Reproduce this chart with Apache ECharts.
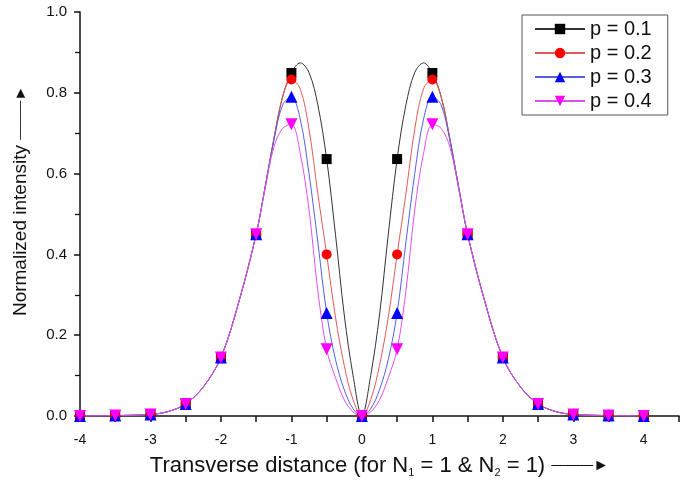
<!DOCTYPE html>
<html>
<head>
<meta charset="utf-8">
<script src="https://cdn.jsdelivr.net/npm/echarts@6/dist/echarts.min.js"></script>
<style>
  html, body { margin: 0; padding: 0; background: #fff; }
  #chart { width: 685px; height: 483px; }
</style>
</head>
<body>
<div id="chart"></div>
<script>
// transverse distance samples (markers sit on the 0.5 steps)
var xs = [-4, -3.5, -3, -2.75, -2.5, -2.25, -2, -1.75, -1.5, -1.375, -1.25, -1.125, -1,
          -0.875, -0.75, -0.625, -0.5, -0.375, -0.25, -0.125, 0, 0.125, 0.25, 0.375, 0.5,
          0.625, 0.75, 0.875, 1, 1.125, 1.25, 1.375, 1.5, 1.75, 2, 2.25, 2.5, 2.75, 3, 3.5, 4];

var p01 = [0, 0.001, 0.004, 0.011, 0.03, 0.072, 0.145, 0.28, 0.45, 0.565, 0.685, 0.79, 0.849,
           0.874, 0.85, 0.77, 0.636, 0.45, 0.25, 0.10, 0, 0.10, 0.25, 0.45, 0.636,
           0.77, 0.85, 0.874, 0.849, 0.79, 0.685, 0.565, 0.45, 0.28, 0.145, 0.072, 0.03, 0.011, 0.004, 0.001, 0];
var p02 = [0, 0.001, 0.004, 0.011, 0.03, 0.072, 0.145, 0.28, 0.45, 0.565, 0.685, 0.79, 0.833,
           0.81, 0.71, 0.55, 0.40, 0.245, 0.125, 0.04, 0, 0.04, 0.125, 0.245, 0.40,
           0.55, 0.71, 0.81, 0.833, 0.79, 0.685, 0.565, 0.45, 0.28, 0.145, 0.072, 0.03, 0.011, 0.004, 0.001, 0];
var p03 = [0, 0.001, 0.004, 0.011, 0.03, 0.072, 0.145, 0.28, 0.45, 0.565, 0.68, 0.77, 0.79,
           0.735, 0.60, 0.43, 0.255, 0.14, 0.065, 0.018, 0, 0.018, 0.065, 0.14, 0.255,
           0.43, 0.60, 0.735, 0.79, 0.77, 0.68, 0.565, 0.45, 0.28, 0.145, 0.072, 0.03, 0.011, 0.004, 0.001, 0];
var p04 = [0, 0.001, 0.004, 0.011, 0.03, 0.072, 0.145, 0.28, 0.45, 0.56, 0.665, 0.712, 0.722,
           0.65, 0.51, 0.31, 0.165, 0.095, 0.04, 0.01, 0, 0.01, 0.04, 0.095, 0.165,
           0.31, 0.51, 0.65, 0.722, 0.712, 0.665, 0.56, 0.45, 0.28, 0.145, 0.072, 0.03, 0.011, 0.004, 0.001, 0];

var names = ['p = 0.1', 'p = 0.2', 'p = 0.3', 'p = 0.4'];
var xTicks = [-4, -3, -2, -1, 0, 1, 2, 3, 4];

var font = 'Liberation Sans, Arial, sans-serif';
var arrow = '{a|\u2014\u2014\u2014}{h|\u25BA}';

function makeData(ys) {
    return xs.map(function (x, i) {
        var onStep = Math.abs(x * 2 - Math.round(x * 2)) < 1e-9;
        return onStep ? [x, ys[i]] : { value: [x, ys[i]], symbol: 'none' };
    });
}

function makeSeries(name, ys, symbol, size, markColor, lineColor) {
    return {
        name: name,
        type: 'line',
        smooth: 0.35,
        symbol: symbol,
        symbolSize: size,
        showAllSymbol: true,
        data: makeData(ys),
        itemStyle: { color: markColor },
        lineStyle: { color: lineColor, width: 1 },
        emphasis: { disabled: true }
    };
}

var chart = echarts.init(document.getElementById('chart'), null, { renderer: 'canvas' });
chart.setOption({
    animation: false,
    backgroundColor: '#fff',
    textStyle: { fontFamily: font },
    grid: { left: 80, right: 6, top: 12, bottom: 67 },
    legend: {
        orient: 'vertical',
        left: 522,
        top: 15,
        data: names,
        itemWidth: 50,
        itemHeight: 13,
        itemGap: 4,
        padding: [4, 16, 4, 12],
        borderColor: '#555',
        borderWidth: 1,
        textStyle: { fontSize: 20, color: '#111', fontFamily: font }
    },
    xAxis: {
        type: 'value',
        min: -4,
        max: 4.5,
        interval: 0.5,
        splitLine: { show: false },
        axisLine: { onZero: false, lineStyle: { color: '#111', width: 1.5 } },
        axisTick: { inside: false, length: 6, lineStyle: { color: '#111', width: 1.5 } },
        axisLabel: {
            fontSize: 14, color: '#111', margin: 17,
            formatter: function (v) { return xTicks.indexOf(v) >= 0 ? String(v) : ''; }
        },
        name: 'Transverse distance (for N{s|1} = 1 & N{s|2} = 1) ' + arrow,
        nameLocation: 'middle',
        nameGap: 37,
        nameTextStyle: {
            fontSize: 22, color: '#111', fontFamily: font,
            rich: {
                s: { fontSize: 11, color: '#111', padding: [14, 0, 0, 0] },
                a: { fontSize: 14, color: '#111' },
                h: { fontSize: 16, color: '#111' }
            }
        }
    },
    yAxis: {
        type: 'value',
        min: 0,
        max: 1,
        interval: 0.2,
        splitLine: { show: false },
        axisLine: { onZero: false, lineStyle: { color: '#111', width: 1.5 } },
        axisTick: { inside: false, length: 6, lineStyle: { color: '#111', width: 1.5 } },
        minorTick: { show: true, splitNumber: 2, length: 5, lineStyle: { color: '#111', width: 1.3 } },
        axisLabel: {
            fontSize: 15, color: '#111', margin: 13,
            formatter: function (v) { return v.toFixed(1); }
        },
        name: 'Normalized intensity ' + arrow,
        nameLocation: 'middle',
        nameGap: 50,
        nameTextStyle: {
            fontSize: 19, color: '#111', fontFamily: font,
            padding: [0, 0, 0, 26],
            rich: {
                a: { fontSize: 13, color: '#111' },
                h: { fontSize: 15, color: '#111' }
            }
        }
    },
    series: [
        makeSeries(names[0], p01, 'rect', 10, '#000', '#333'),
        makeSeries(names[1], p02, 'circle', 10, '#f00', '#e05a5a'),
        makeSeries(names[2], p03, 'triangle', 12, '#00f', '#5560e0'),
        makeSeries(names[3], p04, 'path://M0,0 L10,0 L5,9 Z', 12, '#f0f', '#e050e8')
    ]
});
</script>
</body>
</html>
